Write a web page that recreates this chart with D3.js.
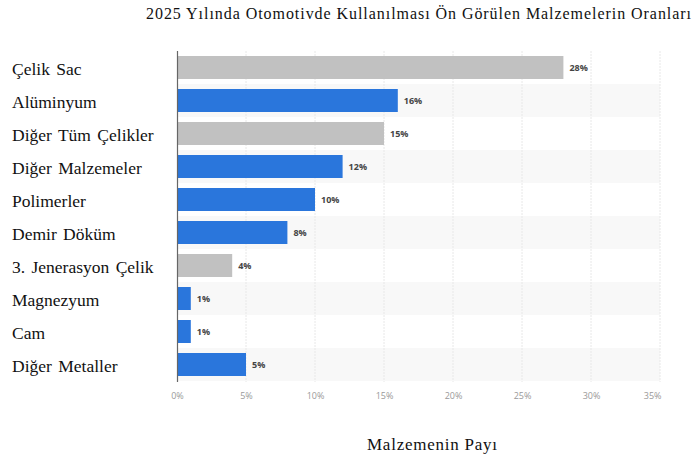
<!DOCTYPE html>
<html><head><meta charset="utf-8">
<script src="https://cdn.jsdelivr.net/npm/d3@7"></script>
<style>body{margin:0;background:#fff}svg{display:block}</style>
</head><body>
<svg id="c" width="692" height="461"></svg>
<script>
const categories = ["Çelik Sac","Alüminyum","Diğer Tüm Çelikler","Diğer Malzemeler","Polimerler","Demir Döküm","3. Jenerasyon Çelik","Magnezyum","Cam","Diğer Metaller"];
const values = [28,16,15,12,10,8,4,1,1,5];
const barTypes = ["gray","blue","gray","blue","blue","blue","gray","blue","blue","blue"];
const xTicks = [0,5,10,15,20,25,30,35];
const title = "2025 Yılında Otomotivde Kullanılması Ön Görülen Malzemelerin Oranları";
const xTitle = "Malzemenin Payı";

const svg = d3.select("#c");
const colors = {blue:"#2a76dc", gray:"#c1c1c1"};
const x = d3.scaleLinear().domain([0,35]).range([177,660]);
const y = d3.scaleBand().domain(categories).range([51,381]).paddingInner(0).paddingOuter(0);
const bh = 23;

// bands
svg.append("g").selectAll("rect").data(categories).join("rect")
  .attr("x",177).attr("width",660-177)
  .attr("y",d=>y(d)).attr("height",y.bandwidth())
  .attr("fill",(d,i)=> i%2===1 ? "#f8f8f8" : "none");

// gridlines
svg.append("g").selectAll("line").data(xTicks.slice(1)).join("line")
  .attr("x1",d=>x(d)).attr("x2",d=>x(d)).attr("y1",51).attr("y2",382)
  .attr("stroke","#e8e8e8").attr("stroke-width",1).attr("stroke-dasharray","2,1");

// bars
svg.append("g").selectAll("rect").data(categories).join("rect")
  .attr("x",x(0)).attr("y",d=>y(d)+(y.bandwidth()-bh)/2)
  .attr("width",(d,i)=>x(values[i])-x(0)).attr("height",bh)
  .attr("fill",(d,i)=>colors[barTypes[i]]);

// value labels
svg.append("g").selectAll("text").data(categories).join("text")
  .attr("x",(d,i)=>x(values[i])+6).attr("y",d=>y(d)+y.bandwidth()/2+3)
  .attr("font-family","'Open Sans', sans-serif").attr("font-size",9).attr("font-weight","bold")
  .attr("fill","#444").text((d,i)=>values[i]+"%");

// axis line
svg.append("line").attr("x1",177.5).attr("x2",177.5).attr("y1",51).attr("y2",382)
  .attr("stroke","#666").attr("stroke-width",1.2);

// x axis tick labels
const xAxis = d3.axisBottom(x).tickValues(xTicks).tickFormat(d=>d+"%").tickSize(0).tickPadding(9);
const gx = svg.append("g").attr("transform","translate(0,384)").call(xAxis);
gx.select(".domain").remove();
gx.selectAll("text").attr("font-family","'Open Sans', sans-serif").attr("font-size",9).attr("fill","#999");
gx.selectAll(".tick:last-of-type text").attr("text-anchor","end").attr("dx","1");

// category labels
svg.append("g").selectAll("text").data(categories).join("text")
  .attr("x",12).attr("y",d=>y(d)+y.bandwidth()/2+7)
  .attr("font-family","'Liberation Serif', 'Times New Roman', serif").attr("font-size",17.5)
  .attr("word-spacing",2)
  .attr("fill","#111").text(d=>d);

// title
svg.append("text").attr("x",146).attr("y",19)
  .attr("font-family","'Liberation Serif', 'Times New Roman', serif").attr("font-size",16)
  .attr("fill","#111").attr("textLength",545).attr("lengthAdjust","spacing").text(title);

// x title
svg.append("text").attr("x",367).attr("y",450)
  .attr("font-family","'Liberation Serif', 'Times New Roman', serif").attr("font-size",17)
  .attr("fill","#111").attr("textLength",130).attr("lengthAdjust","spacing").text(xTitle);
</script>
</body></html>
